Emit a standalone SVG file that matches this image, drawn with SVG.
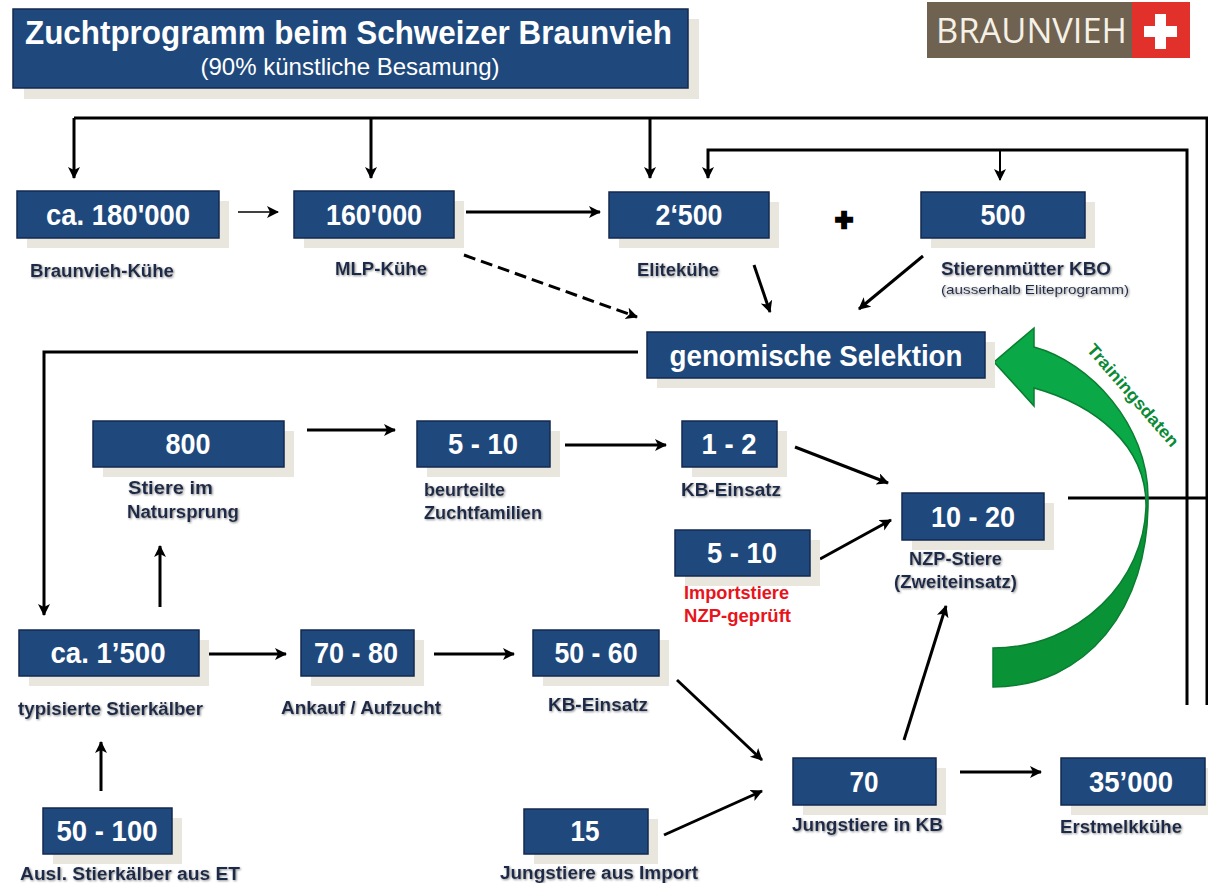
<svg xmlns="http://www.w3.org/2000/svg" width="1208" height="883" viewBox="0 0 1208 883">
<style>
text{font-family:"Liberation Sans",Arial,sans-serif;lengthAdjust:spacingAndGlyphs}
.s{fill:#e9e7dd}
.b{fill:#1f497d;stroke:#13294f;stroke-width:1.5}
.n{fill:#fff;font-weight:bold;font-size:29px;text-anchor:middle}
.l{fill:#1f2b4a;font-weight:bold;font-size:18px;filter:url(#ts)}
.r{fill:#e8141c;font-weight:bold;font-size:18px}
.c{fill:none;stroke:#000;stroke-width:3}
.a{marker-end:url(#ah)}
</style>
<defs>
<marker id="ah" markerUnits="userSpaceOnUse" markerWidth="14" markerHeight="14" refX="11" refY="6" orient="auto"><path d="M0 0L12 6L0 12L3 6Z" fill="#000"/></marker>
<filter id="ts" x="-5%" y="-20%" width="110%" height="140%"><feDropShadow dx="1" dy="1" stdDeviation="0.8" flood-color="#8d8d8d"/></filter>
<linearGradient id="g" gradientUnits="userSpaceOnUse" x1="0" y1="328" x2="0" y2="687"><stop offset="0" stop-color="#0aa847"/><stop offset="0.47" stop-color="#0aa847"/><stop offset="0.5" stop-color="#0a9237"/><stop offset="1" stop-color="#0a9237"/></linearGradient>
</defs>
<rect width="1208" height="883" fill="#fff"/>
<g id="connectors">
<path class="c" d="M1207 705V118H74"/>
<path class="c a" d="M74 118V178"/>
<path class="c a" d="M371 118V178"/>
<path class="c a" d="M650 118V178"/>
<path class="c a" d="M1187 705V150H708V178"/>
<path class="c a" style="stroke-width:2" d="M1000 150V180"/>
<path class="c a" style="stroke-width:1.5" d="M238 212H278"/>
<path class="c a" d="M466 212H600"/>
<path class="c a" stroke-dasharray="12 6" d="M464 255L637 317"/>
<path class="c a" d="M754 265L770 312"/>
<path class="c a" d="M923 256L859 309"/>
<path class="c a" d="M638 352H44V615"/>
<path class="c a" d="M307 430H395"/>
<path class="c a" d="M565 445H666"/>
<path class="c a" d="M795 447L888 483"/>
<path class="c a" d="M820 559L891 520"/>
<path class="c" d="M1068 498H1208"/>
<path class="c a" d="M160 607V546"/>
<path class="c a" d="M208 654H286"/>
<path class="c a" d="M434 654H514"/>
<path class="c a" d="M677 680L762 760"/>
<path class="c a" d="M904 740L946 606"/>
<path class="c a" d="M960 772H1041"/>
<path class="c a" d="M101 791V742"/>
<path class="c a" d="M664 835L762 791"/>
</g>
<g id="training">
<path d="M994 362L1034 328V347C1090 362 1148 425 1148 497C1150 610 1085 687 993 687V648C1080 648 1145 580 1146 505C1146 445 1095 405 1034 388V406Z" fill="url(#g)" stroke="#0a7d30" stroke-width="1.5"/>
<text transform="translate(1086 350) rotate(49)" fill="#0b8a36" font-weight="bold" font-size="17" textLength="130" lengthAdjust="spacingAndGlyphs">Trainingsdaten</text>
</g>
<g id="title">
<rect class="s" x="24" y="19" width="675" height="80"/>
<rect class="b" x="13" y="9" width="675" height="79"/>
<text x="25" y="44" fill="#fff" font-weight="bold" font-size="33" textLength="647" lengthAdjust="spacingAndGlyphs">Zuchtprogramm beim Schweizer Braunvieh</text>
<text x="350" y="75" fill="#fff" font-size="24" text-anchor="middle" textLength="299" lengthAdjust="spacingAndGlyphs">(90% künstliche Besamung)</text>
</g>
<g id="logo">
<rect x="927" y="2" width="206" height="56" fill="#6f6250"/>
<rect x="1132" y="2" width="58" height="56" fill="#e2302a"/>
<path d="M1155 14h11v12h11v11h-11v12h-11v-12h-11v-11h11Z" fill="#fff"/>
<text x="936" y="43" fill="#f5f1e6" font-size="35" textLength="191" lengthAdjust="spacingAndGlyphs" style="font-family:'Open Sans',sans-serif">BRAUNVIEH</text>
</g>
<g id="n180000"><rect class="s" x="27" y="201" width="202" height="47"/><rect class="b" x="17" y="191" width="202" height="47"/><text class="n" x="118" y="225" textLength="144" lengthAdjust="spacingAndGlyphs">ca. 180'000</text><text class="l" x="30" y="277" textLength="144" lengthAdjust="spacingAndGlyphs">Braunvieh-Kühe</text></g>
<g id="n160000"><rect class="s" x="304" y="201" width="160" height="47"/><rect class="b" x="294" y="191" width="160" height="47"/><text class="n" x="374" y="225" textLength="96" lengthAdjust="spacingAndGlyphs">160'000</text><text class="l" x="335" y="275" textLength="92" lengthAdjust="spacingAndGlyphs">MLP-Kühe</text></g>
<g id="n2500"><rect class="s" x="619" y="202" width="160" height="46"/><rect class="b" x="609" y="192" width="160" height="46"/><text class="n" x="689" y="225" textLength="67" lengthAdjust="spacingAndGlyphs">2‘500</text><text class="l" x="637" y="276" textLength="82" lengthAdjust="spacingAndGlyphs">Elitekühe</text></g>
<text id="plus" x="844" y="230" fill="#000" stroke="#000" stroke-width="2.5" font-weight="bold" font-size="31" text-anchor="middle">+</text>
<g id="n500"><rect class="s" x="931" y="202" width="164" height="46"/><rect class="b" x="921" y="192" width="164" height="46"/><text class="n" x="1003" y="225" textLength="45" lengthAdjust="spacingAndGlyphs">500</text><text class="l" x="941" y="275" textLength="170" lengthAdjust="spacingAndGlyphs">Stierenmütter  KBO</text><text class="l" x="941" y="294" style="font-weight:normal;font-size:13px" textLength="188" lengthAdjust="spacingAndGlyphs">(ausserhalb  Eliteprogramm)</text></g>
<g id="genomisch"><rect class="s" x="657" y="342" width="338" height="46"/><rect class="b" x="647" y="332" width="338" height="46"/><text class="n" x="816" y="366" textLength="293" lengthAdjust="spacingAndGlyphs">genomische Selektion</text></g>
<g id="n800"><rect class="s" x="103" y="431" width="191" height="46"/><rect class="b" x="93" y="421" width="191" height="46"/><text class="n" x="188" y="454" textLength="45" lengthAdjust="spacingAndGlyphs">800</text><text class="l" x="128" y="494" textLength="85" lengthAdjust="spacingAndGlyphs">Stiere im</text><text class="l" x="127" y="518" textLength="112" lengthAdjust="spacingAndGlyphs">Natursprung</text></g>
<g id="n510a"><rect class="s" x="427" y="431" width="133" height="46"/><rect class="b" x="417" y="421" width="133" height="46"/><text class="n" x="483" y="454" textLength="70" lengthAdjust="spacingAndGlyphs">5 - 10</text><text class="l" x="424" y="496" textLength="81" lengthAdjust="spacingAndGlyphs">beurteilte</text><text class="l" x="424" y="519" textLength="118" lengthAdjust="spacingAndGlyphs">Zuchtfamilien</text></g>
<g id="n12"><rect class="s" x="692" y="431" width="95" height="46"/><rect class="b" x="682" y="421" width="95" height="46"/><text class="n" x="729" y="454" textLength="55" lengthAdjust="spacingAndGlyphs">1 - 2</text><text class="l" x="681" y="496" textLength="100" lengthAdjust="spacingAndGlyphs">KB-Einsatz</text></g>
<g id="n1020"><rect class="s" x="912" y="503" width="142" height="47"/><rect class="b" x="902" y="493" width="142" height="47"/><text class="n" x="973" y="527" textLength="84" lengthAdjust="spacingAndGlyphs">10 - 20</text><text class="l" x="909" y="565" textLength="93" lengthAdjust="spacingAndGlyphs">NZP-Stiere</text><text class="l" x="894" y="588" textLength="123" lengthAdjust="spacingAndGlyphs">(Zweiteinsatz)</text></g>
<g id="n510b"><rect class="s" x="685" y="540" width="135" height="46"/><rect class="b" x="675" y="530" width="135" height="46"/><text class="n" x="742" y="563" textLength="70" lengthAdjust="spacingAndGlyphs">5 - 10</text><text class="r" x="684" y="599" textLength="105" lengthAdjust="spacingAndGlyphs">Importstiere</text><text class="r" x="684" y="622" textLength="107" lengthAdjust="spacingAndGlyphs">NZP-geprüft</text></g>
<g id="n1500"><rect class="s" x="29" y="640" width="180" height="46"/><rect class="b" x="19" y="630" width="180" height="46"/><text class="n" x="108" y="663" textLength="115" lengthAdjust="spacingAndGlyphs">ca. 1’500</text><text class="l" x="18" y="715" textLength="185" lengthAdjust="spacingAndGlyphs">typisierte  Stierkälber</text></g>
<g id="n7080"><rect class="s" x="311" y="640" width="113" height="46"/><rect class="b" x="301" y="630" width="113" height="46"/><text class="n" x="356" y="663" textLength="84" lengthAdjust="spacingAndGlyphs">70 - 80</text><text class="l" x="281" y="714" textLength="160" lengthAdjust="spacingAndGlyphs">Ankauf / Aufzucht</text></g>
<g id="n5060"><rect class="s" x="543" y="640" width="126" height="46"/><rect class="b" x="533" y="630" width="126" height="46"/><text class="n" x="596" y="663" textLength="83" lengthAdjust="spacingAndGlyphs">50 - 60</text><text class="l" x="548" y="711" textLength="100" lengthAdjust="spacingAndGlyphs">KB-Einsatz</text></g>
<g id="n70"><rect class="s" x="803" y="768" width="143" height="47"/><rect class="b" x="793" y="758" width="143" height="47"/><text class="n" x="864" y="792" textLength="29" lengthAdjust="spacingAndGlyphs">70</text><text class="l" x="792" y="831" textLength="151" lengthAdjust="spacingAndGlyphs">Jungstiere in KB</text></g>
<g id="n35000"><rect class="s" x="1071" y="768" width="137" height="47"/><rect class="b" x="1061" y="758" width="144" height="47"/><text class="n" x="1131" y="792" textLength="84" lengthAdjust="spacingAndGlyphs">35’000</text><text class="l" x="1060" y="833" textLength="122" lengthAdjust="spacingAndGlyphs">Erstmelkkühe</text></g>
<g id="n50100"><rect class="s" x="53" y="818" width="129" height="46"/><rect class="b" x="43" y="808" width="129" height="46"/><text class="n" x="107" y="841" textLength="101" lengthAdjust="spacingAndGlyphs">50 - 100</text><text class="l" x="20" y="880" textLength="220" lengthAdjust="spacingAndGlyphs">Ausl. Stierkälber aus ET</text></g>
<g id="n15"><rect class="s" x="534" y="819" width="124" height="45"/><rect class="b" x="524" y="809" width="124" height="45"/><text class="n" x="585" y="841" textLength="29" lengthAdjust="spacingAndGlyphs">15</text><text class="l" x="500" y="879" textLength="198" lengthAdjust="spacingAndGlyphs">Jungstiere aus Import</text></g>
</svg>
